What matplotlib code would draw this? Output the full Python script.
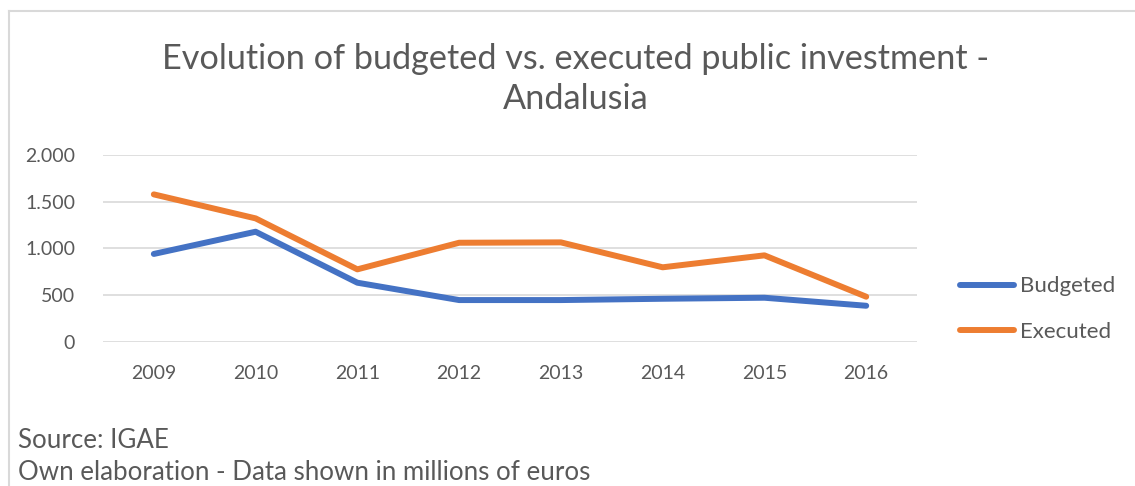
import matplotlib
matplotlib.use("Agg")
import matplotlib.pyplot as plt
from matplotlib.lines import Line2D

years = ['2009', '2010', '2011', '2012', '2013', '2014', '2015', '2016']
budgeted = [940, 1178, 632, 446, 446, 460, 471, 385]
executed = [1578, 1321, 775, 1060, 1064, 797, 925, 482]
y_ticks = [0, 500, 1000, 1500, 2000]
y_labels = ['0', '500', '1.000', '1.500', '2.000']

plt.rcParams['font.family'] = ['Lato', 'DejaVu Sans']
grey = '#595959'

fig = plt.figure(figsize=(11.35, 4.86), dpi=100)
ax = fig.add_axes([0.0907, 0.2969, 0.7173, 0.3842])

x = list(range(len(years)))
ax.plot(x, budgeted, color='#4472C4', lw=4.3, solid_capstyle='round',
        solid_joinstyle='round', label='Budgeted', zorder=3)
ax.plot(x, executed, color='#ED7D31', lw=4.3, solid_capstyle='round',
        solid_joinstyle='round', label='Executed', zorder=3)

ax.set_xlim(-0.5, len(years) - 0.5)
ax.set_ylim(0, 2000)
ax.set_yticks(y_ticks)
ax.set_yticklabels(y_labels)
ax.set_xticks(x)
ax.set_xticklabels(years)
ax.grid(axis='y', color='#d9d9d9', lw=1.2)
ax.set_axisbelow(True)
for s in ax.spines.values():
    s.set_visible(False)
ax.tick_params(length=0, labelsize=14, labelcolor=grey)
ax.tick_params(axis='y', pad=20)
ax.tick_params(axis='x', pad=17)

fig.text(0.507, 0.838, 'Evolution of budgeted vs. executed public investment -\nAndalusia',
         ha='center', va='center', fontsize=24.7, color=grey, linespacing=1.31)

leg = fig.legend(loc='center left', bbox_to_anchor=(0.828, 0.364), frameon=False,
                 fontsize=16, labelcolor=grey, handlelength=2.45, handletextpad=0.28,
                 labelspacing=1.15)

fig.text(0.016, 0.094, 'Source: IGAE', fontsize=18.6, color=grey, va='center')
fig.text(0.016, 0.027, 'Own elaboration - Data shown in millions of euros',
         fontsize=18.6, color=grey, va='center')

# chart frame (left and top edges visible)
fig.add_artist(Line2D([0.0075, 0.0075], [0, 0.977], transform=fig.transFigure,
                      color='#d9d9d9', lw=1.5))
fig.add_artist(Line2D([0.0075, 1.0], [0.977, 0.977], transform=fig.transFigure,
                      color='#d9d9d9', lw=1.5))

fig.savefig('out.png', dpi=100)
